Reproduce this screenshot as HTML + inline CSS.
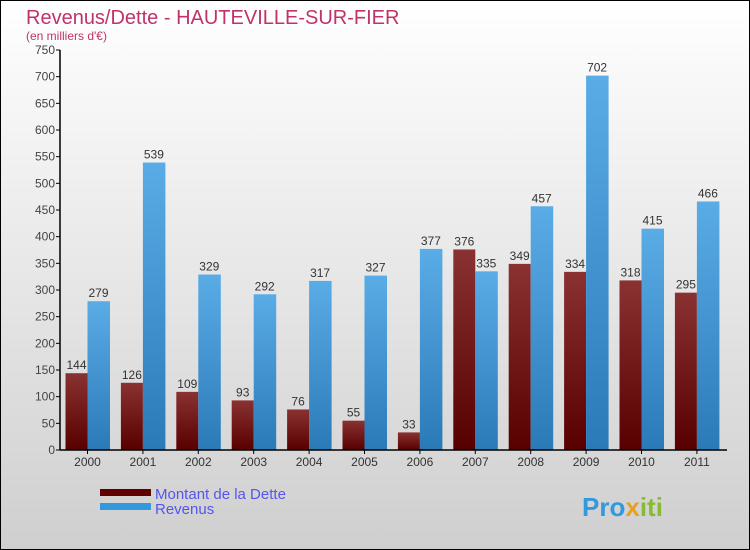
<!DOCTYPE html>
<html><head><meta charset="utf-8"><style>
body{margin:0}
#c{width:750px;height:550px;position:relative;box-sizing:border-box;border:1px solid #000;background:linear-gradient(#fff,#cfcfcf);font-family:"Liberation Sans",sans-serif;overflow:hidden}
</style></head><body>
<div id="c">
<svg id="s" width="750" height="550" style="position:absolute;left:-1px;top:-1px">
<defs>
<linearGradient id="gd" x1="0" y1="0" x2="0" y2="1"><stop offset="0" stop-color="#8a3232"/><stop offset="1" stop-color="#580000"/></linearGradient>
<linearGradient id="gr" x1="0" y1="0" x2="0" y2="1"><stop offset="0" stop-color="#5aace6"/><stop offset="1" stop-color="#2a7ab8"/></linearGradient>
</defs>
<text x="26" y="24" font-size="20" fill="#c0336a">Revenus/Dette - HAUTEVILLE-SUR-FIER</text>
<text x="26" y="40" font-size="12" fill="#c0336a">(en milliers d'€)</text>
<g id="g"></g>
<rect x="100" y="489" width="51" height="7" fill="#600000"/>
<text x="155" y="499" font-size="15" fill="#5555ee">Montant de la Dette</text>
<rect x="100" y="503" width="51" height="7" fill="#3399dd"/>
<text x="155" y="514" font-size="15" fill="#5555ee">Revenus</text>
<text x="582" y="516" font-size="26" font-weight="bold" fill="#3399dd">Pro<tspan fill="#e8a020">x</tspan><tspan fill="#88bb33">iti</tspan></text>
</svg>
</div>
<script>
const years=["2000","2001","2002","2003","2004","2005","2006","2007","2008","2009","2010","2011"];
const dette=[144,126,109,93,76,55,33,376,349,334,318,295];
const revenus=[279,539,329,292,317,327,377,335,457,702,415,466];
const yTicks=[0,50,100,150,200,250,300,350,400,450,500,550,600,650,700,750];
const NS="http://www.w3.org/2000/svg",g=document.getElementById('g');
const y=v=>450-v*400/750, xc=i=>87.5+i*55.4;
function mk(t,a,txt){const e=document.createElementNS(NS,t);for(const k in a)e.setAttribute(k,a[k]);if(txt!==undefined)e.textContent=txt;g.appendChild(e);return e;}
yTicks.forEach(v=>{
 const l=mk('line',{x1:56,x2:60,y1:y(v),y2:y(v),stroke:'#000'});
 
 
 const t=mk('text',{x:55,y:y(v)+4,'font-size':12,'text-anchor':'end',fill:'#444'},v);
 
 
});
years.forEach((yr,i)=>{
 const c=xc(i);
 const b1=mk('rect',{x:c-22,y:y(dette[i]),width:22,height:450-y(dette[i]),fill:'url(#gd)'});
 
 
 const b2=mk('rect',{x:c,y:y(revenus[i]),width:22.5,height:450-y(revenus[i]),fill:'url(#gr)'});
 
 
 const t1=mk('text',{x:c-11,y:y(dette[i])-4,'font-size':12,'text-anchor':'middle',fill:'#333'},dette[i]);
 
 
 const t2=mk('text',{x:c+11,y:y(revenus[i])-4,'font-size':12,'text-anchor':'middle',fill:'#333'},revenus[i]);
 
 
 const tk=mk('line',{x1:c,x2:c,y1:450,y2:454,stroke:'#000'});
 
 
 const xl=mk('text',{x:c,y:466,'font-size':12,'text-anchor':'middle',fill:'#333'},yr);
 
 
});
const ax=mk('line',{x1:60,x2:60,y1:y(750),y2:450,stroke:'#000','stroke-width':1.5});


const bx=mk('line',{x1:60,x2:727,y1:450,y2:450,stroke:'#000','stroke-width':1.5});


</script>
</body></html>
